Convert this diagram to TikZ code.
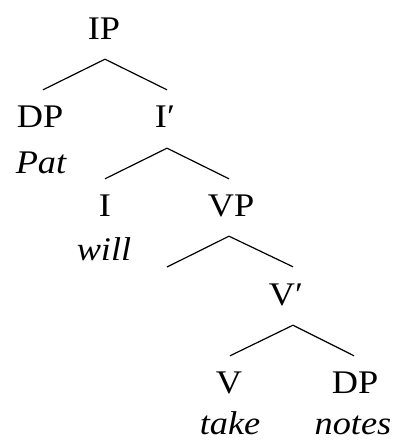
\documentclass[tikz,border=0pt]{standalone}
\usepackage{fontspec}
\setmainfont[FakeStretch=1.1]{Liberation Serif}
\usetikzlibrary{positioning}

\begin{document}
\begin{tikzpicture}[x=1pt, y=-1pt,
        cat/.style={inner sep=0pt, anchor=base, text height=22pt, text depth=0pt, font=\fontsize{33}{40}\selectfont},
        word/.style={inner sep=0pt, anchor=base, font=\fontsize{33}{40}\selectfont\itshape},
        branch/.style={line width=1.2pt}]
        \useasboundingbox (0,0) rectangle (402,441);
        % categories
        \node[cat] (IP) at (104,40) {IP};
        \node[cat] (DP) at (40,128) {DP};
        \node[word] (Pat) at (41,173) {Pat};
        \node[cat] (Ibar) at (165,128) {I′};
        \node[cat] (I) at (105,216) {I};
        \node[word] (will) at (104,260) {will};
        \node[cat] (VP) at (231,216) {VP};
        \coordinate (empty) at (167,267);
        \node[cat] (Vbar) at (286,305) {V′};
        \node[cat] (V) at (229,393) {V};
        \node[word] (take) at (230,434) {take};
        \node[cat] (DPo) at (355,393) {DP};
        \node[word] (notes) at (353,434) {notes};
        % branches
        \draw[branch] ([xshift=1pt,yshift=-19pt]IP.south) -- ([xshift=3pt,yshift=16pt]DP.north);
        \draw[branch] ([xshift=1pt,yshift=-19pt]IP.south) -- ([xshift=2pt,yshift=16pt]Ibar.north);
        \draw[branch] ([xshift=2pt,yshift=-20pt]Ibar.south) -- ([yshift=15pt]I.north);
        \draw[branch] ([xshift=2pt,yshift=-20pt]Ibar.south) -- ([xshift=-2pt,yshift=15pt]VP.north);
        \draw[branch] ([xshift=-2pt,yshift=-20pt]VP.south) -- (empty);
        \draw[branch] ([xshift=-2pt,yshift=-20pt]VP.south) -- ([xshift=7pt,yshift=16pt]Vbar.north);
        \draw[branch] ([xshift=7pt,yshift=-20pt]Vbar.south) -- ([xshift=1pt,yshift=15pt]V.north);
        \draw[branch] ([xshift=7pt,yshift=-20pt]Vbar.south) -- ([xshift=-1pt,yshift=15pt]DPo.north);
\end{tikzpicture}
\end{document}
